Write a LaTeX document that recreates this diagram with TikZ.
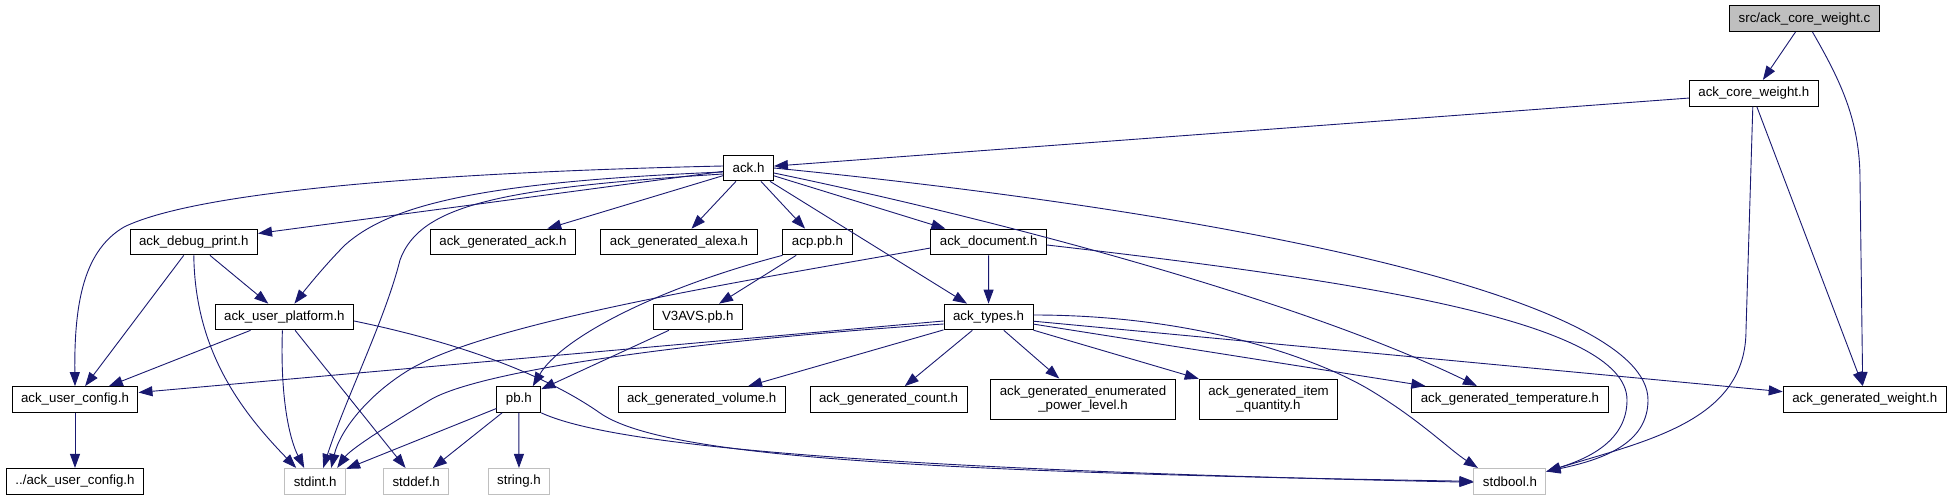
\documentclass[tikz,border=0pt]{standalone}
\usepackage{fontspec}
\setmainfont{Liberation Sans}
\usepackage{tikz}
\usetikzlibrary{arrows.meta}
\definecolor{mnavy}{RGB}{25,25,112}
\definecolor{mgrey}{RGB}{191,191,191}

\begin{document}
\begin{tikzpicture}[x=1pt, y=-1pt,
    box/.style={draw, line width=1pt, fill=white, inner xsep=9pt, inner ysep=3pt,
                minimum height=25.7pt, font=\fontsize{13.3}{14.5}\selectfont, align=center},
    sys/.style={box, draw=mgrey},
    root/.style={box, fill=mgrey},
    arr/.style={-{Triangle[length=14pt, width=10pt]}, mnavy, line width=0.9pt},
  ]
    \useasboundingbox (0,0) rectangle (1951,500);
    \node[root] (src)     at (1804.5,18.7)  {src/ack\_core\_weight.c};
    \node[box]  (cwh)     at (1753.8,93.3)  {ack\_core\_weight.h};
    \node[box]  (ack)     at (748.5,168)    {ack.h};
    \node[box]  (dbg)     at (193.8,242)    {ack\_debug\_print.h};
    \node[box]  (gack)    at (503,242)      {ack\_generated\_ack.h};
    \node[box]  (galexa)  at (679,242)      {ack\_generated\_alexa.h};
    \node[box]  (acp)     at (817.5,242)    {acp.pb.h};
    \node[box]  (doc)     at (988.7,242)    {ack\_document.h};
    \node[box]  (plat)    at (284.4,317)    {ack\_user\_platform.h};
    \node[box]  (v3avs)   at (697.8,317)    {V3AVS.pb.h};
    \node[box]  (types)   at (988.5,317)    {ack\_types.h};
    \node[box]  (ucfg)    at (75,399.5)     {ack\_user\_config.h};
    \node[box]  (pb)      at (518.8,399.5)  {pb.h};
    \node[box]  (gvol)    at (701.7,399.5)  {ack\_generated\_volume.h};
    \node[box]  (gcount)  at (888.6,399.5)  {ack\_generated\_count.h};
    \node[box, minimum height=40.3pt] (genum) at (1083,399.2)  {ack\_generated\_enumerated\\\_power\_level.h};
    \node[box, minimum height=40.3pt] (gitem) at (1268.5,399.2) {ack\_generated\_item\\\_quantity.h};
    \node[box]  (gtemp)   at (1509.9,399.3) {ack\_generated\_temperature.h};
    \node[box]  (gweight) at (1864.7,399.3) {ack\_generated\_weight.h};
    \node[box]  (ucfg2)   at (75,481.3)     {../ack\_user\_config.h};
    \node[sys]  (stdint)  at (315.2,481.3)  {stdint.h};
    \node[sys]  (stddef)  at (416.2,481.3)  {stddef.h};
    \node[sys]  (strh)    at (519,481.3)    {string.h};
    \node[sys]  (stdbool) at (1509.9,481.3) {stdbool.h};

    \draw[arr] (src) -- (cwh);
    \draw[arr] ([xshift=8pt]src.south) .. controls (1840,80) and (1860,120) .. (1860,180) -- ([xshift=-2pt]gweight.north);
    \draw[arr] (cwh) -- (ack);
    \draw[arr] ([xshift=3pt]cwh.south) -- ([xshift=-2pt]gweight.north);
    \draw[arr] ([xshift=-1pt]cwh.south) -- (1746,330) .. controls (1746,420) and (1650,440) .. (stdbool.15);

    \draw[arr] (ack) -- (dbg);
    \draw[arr] ([yshift=2pt]ack.west) .. controls (450,172) and (200,190) .. (124,227) .. controls (85,250) and (74,300) .. (ucfg.north);
    \draw[arr] ([yshift=-4pt]ack.west) .. controls (480,182) and (390,205) .. (345,245) .. controls (325,265) and (305,290) .. ([xshift=10pt]plat.north);
    \draw[arr] ([yshift=-6pt]ack.west) .. controls (500,188) and (420,205) .. (400,260) .. controls (385,320) and (345,400) .. ([xshift=8pt]stdint.north);
    \draw[arr] (ack) -- (gack);
    \draw[arr] (ack) -- (galexa);
    \draw[arr] (ack) -- (acp);
    \draw[arr] (ack) -- (types);
    \draw[arr] (ack) -- (doc);
    \draw[arr] ([yshift=-5pt]ack.east) .. controls (1000,220) and (1300,300) .. ([xshift=-33pt]gtemp.north);
    \draw[arr] (ack.east) .. controls (1250,215) and (1648,300) .. (1648,400) .. controls (1648,445) and (1600,460) .. (stdbool.15);

    \draw[arr] (dbg) -- (plat);
    \draw[arr] (dbg) -- (ucfg);
    \draw[arr] (dbg.south) .. controls (195,350) and (240,410) .. ([xshift=-19pt]stdint.north);

    \draw[arr] (plat) -- (ucfg);
    \draw[arr] ([xshift=-2pt]plat.south) .. controls (280,400) and (290,440) .. ([xshift=-11pt]stdint.north);
    \draw[arr] (plat) -- (stddef);
    \draw[arr] ([yshift=-4pt]plat.east) .. controls (470,345) and (550,378) .. (600,413) .. controls (660,455) and (900,472) .. (stdbool.west);

    \draw[arr] (ucfg) -- (ucfg2);

    \draw[arr] (acp.south west) .. controls (650,290) and (560,340) .. ([xshift=14pt]pb.north);
    \draw[arr] (acp) -- (v3avs);
    \draw[arr] (v3avs) -- (pb);

    \draw[arr] (pb) -- (stdint);
    \draw[arr] (pb) -- (stddef);
    \draw[arr] (pb) -- (strh);
    \draw[arr] (pb.south east) .. controls (600,440) and (800,468) .. ([yshift=-1pt]stdbool.west);

    \draw[arr] (doc) -- (types);
    \draw[arr] ([yshift=-6pt]doc.west) .. controls (750,280) and (500,320) .. (414,367) .. controls (370,392) and (340,430) .. ([xshift=16pt]stdint.north);
    \draw[arr] ([yshift=-3pt]doc.east) .. controls (1350,280) and (1627,320) .. (1627,400) .. controls (1627,440) and (1590,458) .. (stdbool.15);

    \draw[arr] ([yshift=-4pt]types.west) -- ([yshift=7pt]ucfg.east);
    \draw[arr] ([yshift=-7pt]types.west) .. controls (700,340) and (480,370) .. (430,400) .. controls (380,430) and (350,450) .. ([xshift=22pt]stdint.north);
    \draw[arr] (types) -- (gvol);
    \draw[arr] (types) -- (gcount);
    \draw[arr] (types) -- (genum);
    \draw[arr] (types) -- (gitem);
    \draw[arr] (types) -- (gtemp);
    \draw[arr] (types) -- (gweight);
    \draw[arr] ([yshift=2pt]types.east) .. controls (1200,315) and (1320,360) .. (1370,390) .. controls (1420,420) and (1450,450) .. ([xshift=-32pt]stdbool.north);
  \end{tikzpicture}
\end{document}
